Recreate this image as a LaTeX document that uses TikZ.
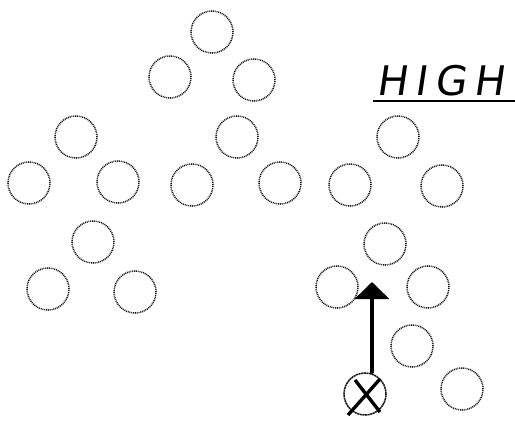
\documentclass[tikz,border=0pt]{standalone}
\usepackage{fontspec}
\usetikzlibrary{arrows.meta}
\newfontfamily\handfont[FakeSlant=0.15]{DejaVu Sans}
\tikzset{
  ring/.style={circle, draw=black!90, line width=2.2pt, dash pattern=on 1.4pt off 1.2pt, minimum size=2.1cm, inner sep=0pt},
  runline/.style={line width=4.8pt, line cap=round, -{Triangle[width=1.7cm,length=0.85cm]}},
}
\begin{document}
\begin{tikzpicture}[x=0.05cm,y=-0.05cm]
  \useasboundingbox (0,0) rectangle (515,424);
  % top group
  \foreach \p [count=\i] in {(212,32),(170,77),(254,80),
      (76,137),(237,137),(398,137),
      (29,183),(118,182),(192,185),(280,183),(350,185),(442,186),
      (93,242),(48,289),(135,292),
      (385,244),(337,287),(428,287),(412,346),(462,389)}
    \node[ring] (c\i) at \p {};
  % crossed man
  \node[ring, dash pattern=on 3pt off 0.8pt] (xc) at (365,394) {};
  \draw[line width=4.8pt] ([shift={(-17,21)}]xc.center) -- ([shift={(15,-15)}]xc.center);
  \draw[line width=4.8pt] ([shift={(-10,-14)}]xc.center) -- ([shift={(15,18)}]xc.center);
  % his run
  \coordinate (tip) at (372,282);
  \draw[runline] (xc.north -| tip) -- (tip);
  % label
  \node[anchor=base west, inner sep=0pt, font=\handfont\fontsize{58}{58}\selectfont] (high) at (376,95) {H\kern11pt I\kern11pt G\kern11pt H};
  \draw[line width=3.5pt] (373,101) -- (515,101);
\end{tikzpicture}
\end{document}
